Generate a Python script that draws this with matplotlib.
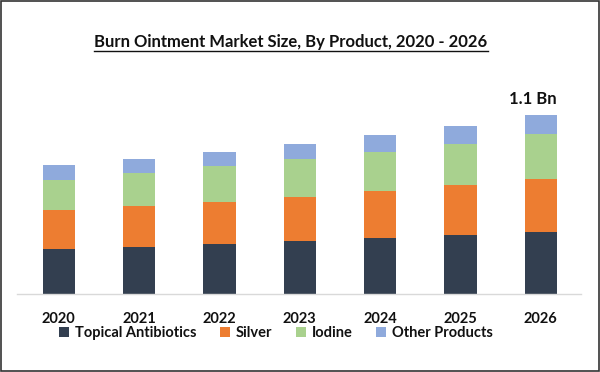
import matplotlib
matplotlib.use('Agg')
import matplotlib.pyplot as plt
from matplotlib.patches import Rectangle
from matplotlib.lines import Line2D
import numpy as np

plt.rcParams['font.family'] = ['Lato', 'DejaVu Sans']

# Data (USD Bn)
years = ['2020', '2021', '2022', '2023', '2024', '2025', '2026']
topical = [0.277, 0.287, 0.306, 0.324, 0.343, 0.363, 0.380]
silver = [0.240, 0.254, 0.259, 0.271, 0.291, 0.306, 0.328]
iodine = [0.187, 0.201, 0.222, 0.234, 0.238, 0.256, 0.275]
other = [0.089, 0.086, 0.086, 0.092, 0.105, 0.111, 0.117]
series_names = ['Topical Antibiotics', 'Silver', 'Iodine', 'Other Products']
colors = ['#333F50', '#ED7D31', '#A9D18E', '#8FAADC']
top_label = '1.1 Bn'

fig = plt.figure(figsize=(6, 3.72), dpi=100)
ax = fig.add_axes([17 / 600, 78 / 372, 564 / 600, 214 / 372])

x = np.arange(len(years))
bottom = np.zeros(len(years))
handles = []
for vals, name, c in zip([topical, silver, iodine, other], series_names, colors):
    b = ax.bar(x, vals, width=0.4, bottom=bottom, color=c, label=name)
    handles.append(b)
    bottom += np.array(vals)

ax.set_xlim(-0.52, 6.5)
ax.set_ylim(0, 1.317)
ax.set_yticks([])
ax.set_xticks(x)
ax.set_xticklabels(years, fontsize=10.5, fontweight='bold', color='#111111')
ax.tick_params(axis='x', length=0, pad=13)
for s in ['top', 'right', 'left']:
    ax.spines[s].set_visible(False)
ax.spines['bottom'].set_color('#D9D9D9')
ax.spines['bottom'].set_linewidth(1)

# value label on the last bar, right-aligned to the bar edge
ax.text(x[-1] + 0.2, bottom[-1] + 0.05, top_label, ha='right', va='bottom',
        fontsize=12, fontweight='bold', color='#111111')

leg = fig.legend(handles=handles, loc='center', bbox_to_anchor=(276 / 600, 1 - 333 / 372),
                 ncol=4, frameon=False, handlelength=0.7, handleheight=0.7,
                 handletextpad=0.4, columnspacing=1.6,
                 prop={'size': 10.5, 'weight': 'bold'})
for t in leg.get_texts():
    t.set_color('#111111')

title = fig.text(291 / 600, 1 - 42 / 372, 'Burn Ointment Market Size, By Product, 2020 - 2026',
                 ha='center', va='center', fontsize=12, fontweight='bold', color='#111111')

# underline the title
fig.canvas.draw()
bb = title.get_window_extent().transformed(fig.transFigure.inverted())
fig.add_artist(Line2D([bb.x0, bb.x1], [bb.y0 - 0.004, bb.y0 - 0.004],
                      transform=fig.transFigure, color='#111111', linewidth=1.0))

# outer border
fig.add_artist(Rectangle((0.002, 0.003), 0.996, 0.994, transform=fig.transFigure,
                         fill=False, edgecolor='#333333', linewidth=1.2))

fig.savefig('out.png', dpi=100, facecolor='white')
